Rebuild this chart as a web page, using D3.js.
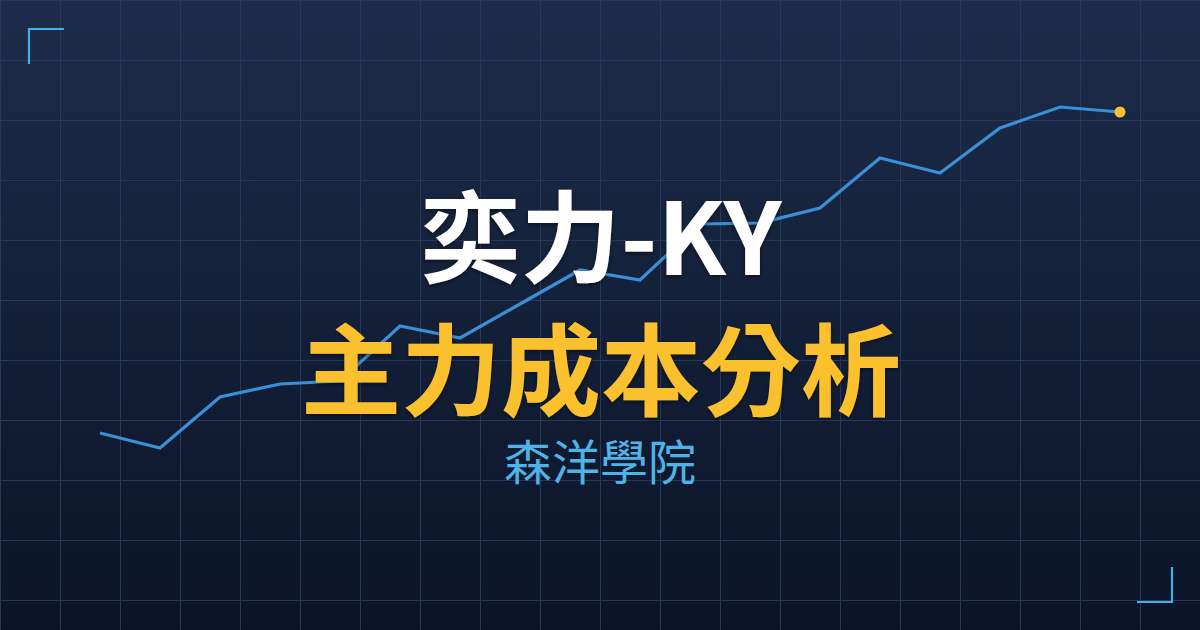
<!DOCTYPE html>
<html>
<head>
<meta charset="utf-8">
<script src="https://cdn.jsdelivr.net/npm/d3@7"></script>
<style>
  html, body { margin: 0; padding: 0; background: #0b1427; }
  svg { display: block; }
</style>
</head>
<body>
<div id="chart"></div>
<script>
var width = 1200, height = 630;

// cost line, one value per step
var steps = d3.range(18);
var costValues = [67, 52, 103, 116, 119, 174, 162, 196, 230, 220, 276, 277, 292, 342, 327, 372, 393, 388];

var titleText = "奕力-KY";
var subtitleText = "主力成本分析";
var brandText = "森洋學院";

function init() {
  var svg = d3.select("#chart")
              .append("svg")
              .attr("width", width)
              .attr("height", height);

  var defs = svg.append("defs");
  var bg = defs.append("linearGradient")
               .attr("id", "bg")
               .attr("x1", 0).attr("y1", 0)
               .attr("x2", 0).attr("y2", 1);
  bg.append("stop").attr("offset", "0%").attr("stop-color", "#1c2c4a");
  bg.append("stop").attr("offset", "100%").attr("stop-color", "#0b1427");

  var shadow = defs.append("filter").attr("id", "shadow")
                   .attr("x", "-10%").attr("y", "-10%")
                   .attr("width", "120%").attr("height", "130%");
  shadow.append("feDropShadow")
        .attr("dx", 0).attr("dy", 2)
        .attr("stdDeviation", 2)
        .attr("flood-color", "#000")
        .attr("flood-opacity", 0.45);

  svg.append("rect")
     .attr("width", width)
     .attr("height", height)
     .attr("fill", "url(#bg)");

  // background grid, every 60px
  var grid = svg.append("g")
                .attr("stroke", "#27385a")
                .attr("stroke-width", 1);
  grid.selectAll("line.v")
      .data(d3.range(0, width + 1, 60))
      .enter()
      .append("line")
      .attr("class", "v")
      .attr("x1", function(d) { return d + 0.5; })
      .attr("x2", function(d) { return d + 0.5; })
      .attr("y1", 0)
      .attr("y2", height);
  grid.selectAll("line.h")
      .data(d3.range(0, height + 1, 60))
      .enter()
      .append("line")
      .attr("class", "h")
      .attr("y1", function(d) { return d + 0.5; })
      .attr("y2", function(d) { return d + 0.5; })
      .attr("x1", 0)
      .attr("x2", width);

  var x = d3.scaleLinear().domain([0, 17]).range([100, 1120]);
  var y = d3.scaleLinear().domain([0, 400]).range([500, 100]);

  var line = d3.line()
               .x(function(d, i) { return x(steps[i]); })
               .y(function(d) { return y(d); });

  svg.append("path")
     .datum(costValues)
     .attr("d", line)
     .attr("fill", "none")
     .attr("stroke", "#3a8fd6")
     .attr("stroke-width", 3.2)
     .attr("stroke-linejoin", "miter");

  var last = costValues.length - 1;
  svg.append("circle")
     .attr("cx", x(steps[last]))
     .attr("cy", y(costValues[last]))
     .attr("r", 5.5)
     .attr("fill", "#fbc02d");

  // corner brackets
  var corners = svg.append("g")
                   .attr("fill", "none")
                   .attr("stroke", "#4aaee6")
                   .attr("stroke-width", 2.2);
  corners.append("path").attr("d", "M29,64 L29,29 L64,29");
  corners.append("path").attr("d", "M1137,602 L1172,602 L1172,567");

  var fontStack = "'Noto Sans CJK TC', 'Noto Sans CJK SC', 'Noto Sans', sans-serif";

  svg.append("text")
     .attr("x", 601)
     .attr("y", 275)
     .attr("text-anchor", "middle")
     .attr("font-family", fontStack)
     .attr("font-weight", 700)
     .attr("font-size", 100)
     .attr("fill", "#ffffff")
     .attr("filter", "url(#shadow)")
     .text(titleText);

  svg.append("text")
     .attr("x", 601)
     .attr("y", 408)
     .attr("text-anchor", "middle")
     .attr("font-family", fontStack)
     .attr("font-weight", 700)
     .attr("font-size", 100)
     .attr("fill", "#fbc02d")
     .attr("filter", "url(#shadow)")
     .text(subtitleText);

  svg.append("text")
     .attr("x", 600)
     .attr("y", 480)
     .attr("text-anchor", "middle")
     .attr("font-family", fontStack)
     .attr("font-weight", 400)
     .attr("font-size", 48)
     .attr("fill", "#4fb3e8")
     .text(brandText);
}
window.onload = init;
</script>
</body>
</html>
